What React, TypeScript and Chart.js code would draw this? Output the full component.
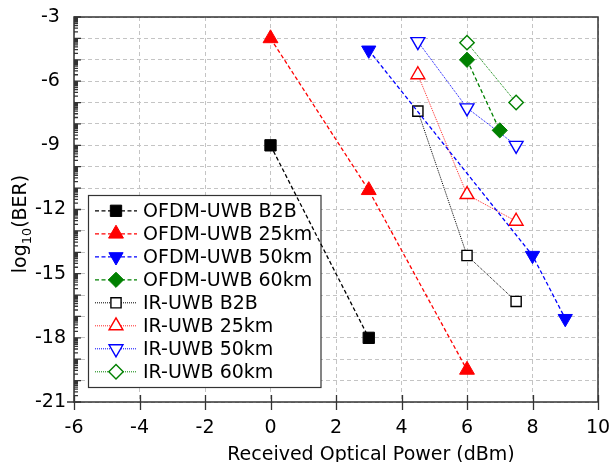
import React, { useEffect, useRef } from 'react';
import { Chart, registerables } from 'chart.js';
import { drawPoint } from 'chart.js/helpers';

Chart.register(...registerables);

const FONT = 'DejaVu Sans';
const FONT_SIZE = 19;

// Received optical power (dBm) and log10(BER) for each link
const ofdmB2bX = [0, 3];
const ofdmB2bY = [-9, -18];
const ofdm25X = [0, 3, 6];
const ofdm25Y = [-4, -11.1, -19.5];
const ofdm50X = [3, 8, 9];
const ofdm50Y = [-4.55, -14.15, -17.1];
const ofdm60X = [6, 7];
const ofdm60Y = [-5, -8.3];
const irB2bX = [4.5, 6, 7.5];
const irB2bY = [-7.4, -14.15, -16.3];
const ir25X = [4.5, 6, 7.5];
const ir25Y = [-5.7, -11.3, -12.55];
const ir50X = [4.5, 6, 7.5];
const ir50Y = [-4.15, -7.25, -9];
const ir60X = [6, 7.5];
const ir60Y = [-4.2, -7];

const seriesLabels = [
  'OFDM-UWB B2B',
  'OFDM-UWB 25km',
  'OFDM-UWB 50km',
  'OFDM-UWB 60km',
  'IR-UWB B2B',
  'IR-UWB 25km',
  'IR-UWB 50km',
  'IR-UWB 60km',
];

const xMin = -6;
const xMax = 10;
const xStep = 2;
const yMin = -21;
const yMax = -3;
const yLabelStep = 3;

const xTitle = 'Received Optical Power (dBm)';

type Style = {
  color: string;
  lineColor: string;
  pointStyle: string;
  rotation: number;
  radius: number;
  filled: boolean;
  dash: number[];
  lineWidth: number;
};

const OFDM_DASH = [4, 2.5];
const IR_DASH = [1, 1];

const styles: Style[] = [
  { color: '#000000', lineColor: '#000000', pointStyle: 'rect', rotation: 0, radius: 8, filled: true, dash: OFDM_DASH, lineWidth: 1.3 },
  { color: '#ff0000', lineColor: '#ff0000', pointStyle: 'triangle', rotation: 0, radius: 8.6, filled: true, dash: OFDM_DASH, lineWidth: 1.3 },
  { color: '#0000ff', lineColor: '#0000ff', pointStyle: 'triangle', rotation: 180, radius: 8.2, filled: true, dash: OFDM_DASH, lineWidth: 1.3 },
  { color: '#008000', lineColor: '#008000', pointStyle: 'rectRot', rotation: 0, radius: 7.6, filled: true, dash: OFDM_DASH, lineWidth: 1.3 },
  { color: '#000000', lineColor: '#000000', pointStyle: 'rect', rotation: 0, radius: 7.2, filled: false, dash: IR_DASH, lineWidth: 1 },
  { color: '#ff0000', lineColor: 'rgba(255,0,0,0.85)', pointStyle: 'triangle', rotation: 0, radius: 8, filled: false, dash: IR_DASH, lineWidth: 1 },
  { color: '#0000ff', lineColor: '#0000ff', pointStyle: 'triangle', rotation: 180, radius: 8, filled: false, dash: IR_DASH, lineWidth: 1 },
  { color: '#008000', lineColor: '#008000', pointStyle: 'rectRot', rotation: 0, radius: 7.2, filled: false, dash: IR_DASH, lineWidth: 1 },
];

const seriesX = [ofdmB2bX, ofdm25X, ofdm50X, ofdm60X, irB2bX, ir25X, ir50X, ir60X];
const seriesY = [ofdmB2bY, ofdm25Y, ofdm50Y, ofdm60Y, irB2bY, ir25Y, ir50Y, ir60Y];

function pointOptions(s: Style) {
  return {
    pointStyle: s.pointStyle,
    rotation: s.rotation,
    radius: s.radius,
    borderWidth: s.filled ? 1 : 1.4,
  };
}

const decorations = {
  id: 'decorations',
  beforeDatasetsDraw(chart: any) {
    // legend box: white panel drawn under the data lines
    const ctx: CanvasRenderingContext2D = chart.ctx;
    const bx = 88.5, by = 195.5, bw = 232.5, bh = 192;
    ctx.save();
    ctx.fillStyle = '#ffffff';
    ctx.fillRect(bx, by, bw, bh);
    ctx.strokeStyle = '#333333';
    ctx.lineWidth = 1.2;
    ctx.strokeRect(bx, by, bw, bh);
    const rowH = 23;
    const firstRow = 210.8;
    ctx.font = `${FONT_SIZE}px "${FONT}"`;
    ctx.textBaseline = 'middle';
    ctx.textAlign = 'left';
    seriesLabels.forEach((label, i) => {
      const s = styles[i];
      const cy = firstRow + i * rowH;
      ctx.save();
      ctx.strokeStyle = s.lineColor;
      ctx.lineWidth = s.lineWidth;
      ctx.setLineDash(s.dash);
      ctx.beginPath();
      ctx.moveTo(95, cy);
      ctx.lineTo(137, cy);
      ctx.stroke();
      ctx.restore();
      ctx.save();
      ctx.fillStyle = s.filled ? s.color : '#ffffff';
      ctx.strokeStyle = s.color;
      const po = pointOptions(s);
      ctx.lineWidth = po.borderWidth;
      drawPoint(ctx, po as any, 116, cy);
      ctx.restore();
      ctx.fillStyle = '#000000';
      ctx.fillText(label, 143, cy + 1);
    });
    ctx.restore();
  },
  afterDraw(chart: any) {
    const ctx: CanvasRenderingContext2D = chart.ctx;
    const { left, right, top, bottom } = chart.chartArea;
    const xs = chart.scales.x;
    const ys = chart.scales.y;
    ctx.save();
    ctx.strokeStyle = '#333333';
    ctx.lineWidth = 1.3;
    // tick marks on the bottom axis
    ctx.beginPath();
    for (let v = xMin; v <= xMax; v += xStep) {
      const px = Math.round(xs.getPixelForValue(v)) + 0.5;
      ctx.moveTo(px, bottom - 7);
      ctx.lineTo(px, bottom + 8);
    }
    // major and log-spaced minor ticks on the left axis
    for (let d = yMin; d <= yMax; d++) {
      const py = ys.getPixelForValue(d);
      ctx.moveTo(left, py);
      ctx.lineTo(left + 7, py);
      if (d < yMax) {
        for (let k = 2; k <= 9; k++) {
          const my = ys.getPixelForValue(d + Math.log10(k));
          ctx.moveTo(left, my);
          ctx.lineTo(left + 4, my);
        }
      }
    }
    ctx.moveTo(left - 7, bottom);
    ctx.lineTo(left, bottom);
    ctx.stroke();
    // plot frame
    ctx.lineWidth = 1.5;
    ctx.strokeRect(left, top, right - left, bottom - top);

    // axis titles
    ctx.fillStyle = '#000000';
    ctx.font = `${FONT_SIZE}px "${FONT}"`;
    ctx.textAlign = 'center';
    ctx.textBaseline = 'alphabetic';
    ctx.fillText(xTitle, 371, 460);

    const big = `${FONT_SIZE}px "${FONT}"`;
    const small = `${FONT_SIZE * 0.68}px "${FONT}"`;
    const parts = [
      { t: 'log', f: big, dy: 0 },
      { t: '10', f: small, dy: 4.5 },
      { t: '(BER)', f: big, dy: 0 },
    ];
    let total = 0;
    parts.forEach((p) => {
      ctx.font = p.f;
      total += ctx.measureText(p.t).width;
    });
    ctx.translate(26, 224);
    ctx.rotate(-Math.PI / 2);
    ctx.textAlign = 'left';
    let cx = -total / 2;
    parts.forEach((p) => {
      ctx.font = p.f;
      ctx.fillText(p.t, cx, p.dy);
      cx += ctx.measureText(p.t).width;
    });
    ctx.restore();
  },
};

export default function App() {
  const canvasRef = useRef<HTMLCanvasElement | null>(null);

  useEffect(() => {
    if (!canvasRef.current) return;
    const datasets = seriesLabels.map((label, i) => {
      const s = styles[i];
      return {
        label,
        data: seriesX[i].map((x, j) => ({ x, y: seriesY[i][j] })),
        showLine: true,
        borderColor: s.lineColor,
        borderWidth: s.lineWidth,
        borderDash: s.dash,
        pointStyle: s.pointStyle,
        rotation: s.rotation,
        pointRadius: s.radius,
        pointHoverRadius: s.radius,
        pointBackgroundColor: s.filled ? s.color : '#ffffff',
        pointBorderColor: s.color,
        pointBorderWidth: s.filled ? 1 : 1.4,
        fill: false,
      };
    });

    const chart = new Chart(canvasRef.current, {
      type: 'scatter',
      data: { datasets },
      options: {
        animation: false,
        responsive: false,
        layout: { padding: { left: 0, top: 17, right: 18, bottom: 0 } },
        plugins: {
          legend: { display: false },
          tooltip: { enabled: false },
        },
        scales: {
          x: {
            type: 'linear',
            min: xMin,
            max: xMax,
            ticks: {
              stepSize: xStep,
              color: '#000000',
              padding: 15,
              font: { family: FONT, size: FONT_SIZE },
              callback: (v: any) => String(v),
            },
            grid: { color: '#c4c4c4', lineWidth: 1, drawTicks: false },
            border: { display: false, dash: [4, 3] },
            afterFit: (scale: any) => {
              scale.height = 60;
              scale.paddingLeft = 0;
              scale.paddingRight = 0;
            },
          },
          y: {
            type: 'linear',
            min: yMin,
            max: yMax,
            ticks: {
              stepSize: 1,
              color: '#000000',
              padding: 8,
              crossAlign: 'center',
              autoSkip: false,
              font: { family: FONT, size: FONT_SIZE },
              callback: (v: any) => (Number(v) % yLabelStep === 0 ? String(v) : ''),
            },
            grid: { color: '#c4c4c4', lineWidth: 1, drawTicks: false },
            border: { display: false, dash: [4, 3] },
            afterFit: (scale: any) => {
              scale.width = 74;
              scale.paddingTop = 0;
              scale.paddingBottom = 0;
            },
          },
        },
      } as any,
      plugins: [decorations],
    });
    return () => chart.destroy();
  }, []);

  return (
    <div style={{ position: 'absolute', left: 0, top: 0, width: 616, height: 462, background: '#ffffff' }}>
      <canvas ref={canvasRef} width={616} height={462} style={{ display: 'block' }} />
    </div>
  );
}
